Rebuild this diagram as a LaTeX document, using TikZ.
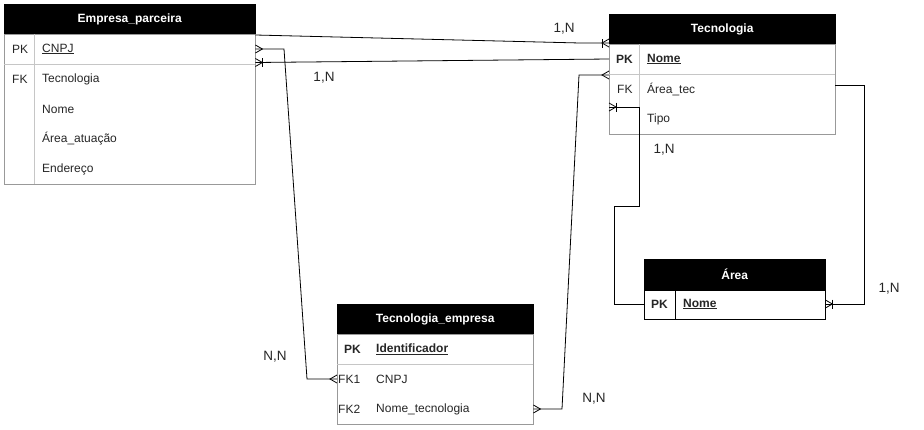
\documentclass[tikz,border=0pt]{standalone}
\usepackage{fontspec}
\setmainfont{Liberation Sans}
\usetikzlibrary{calc}
\begin{document}
\begin{tikzpicture}[x=1pt,y=-1pt,
  txt/.style={font=\fontsize{12}{14}\selectfont, text=black!85},
  hdr/.style={fill=black, draw=black, text=white, font=\fontsize{12}{14}\selectfont\bfseries, anchor=north west, inner sep=0},
  tbody/.style={draw=gray!80, anchor=north west, inner sep=0, fill=white},
  tbodyk/.style={draw=black, anchor=north west, inner sep=0, fill=white},
  cell/.style={txt, anchor=west, inner sep=0},
  bcell/.style={cell, font=\fontsize{12}{14}\selectfont\bfseries},
  sep/.style={draw=gray!45, line width=0.6pt},
  conn/.style={draw=black, line width=0.8pt},
  lbl/.style={font=\fontsize{13.5}{16}\selectfont, text=black!85, inner sep=0},
  crow/.pic={\draw[conn] (0,-4) -- (7,0) -- (0,4);},
  crowbar/.pic={\draw[conn] (0,-4) -- (7,0) -- (0,4); \draw[conn] (7,-4.5) -- (7,4.5);}
]
\useasboundingbox (0,0) rectangle (924,429);
\fill[white] (0,0) rectangle (924,429);

% ---------- Empresa_parceira ----------
\node[hdr, minimum width=251pt, minimum height=30pt] (empH) at (4,4) {Empresa\_parceira};
\node[tbody, minimum width=251pt, minimum height=150pt] (emp) at (4,34) {};
\draw[sep] (4,64) -- (255,64);
\draw[sep] (34,34) -- (34,184);
\node[cell] (empPK) at (12,49) {PK};
\node[cell] (empCNPJ) at (42,49) {\underline{CNPJ}};
\node[cell] (empFK) at (12,79) {FK};
\node[cell] (empTec) at (42,79) {Tecnologia};
\node[cell] (empNome) at (42,109) {Nome};
\node[cell] (empArea) at (42,139) {Área\_atuação};
\node[cell] (empEnd) at (42,169) {Endereço};

% ---------- Tecnologia ----------
\node[hdr, minimum width=226pt, minimum height=30pt] (tecH) at (609,14) {Tecnologia};
\node[tbody, minimum width=226pt, minimum height=90pt] (tec) at (609,44) {};
\draw[sep] (609,74) -- (835,74);
\draw[sep] (639,44) -- (639,134);
\node[bcell] (tecPK) at (616,59) {PK};
\node[bcell] (tecNome) at (647,59) {\underline{Nome}};
\node[cell] (tecFK) at (617,89) {FK};
\node[cell] (tecArea) at (647,89) {Área\_tec};
\node[cell] (tecTipo) at (647,119) {Tipo};

% ---------- Área ----------
\node[hdr, minimum width=181pt, minimum height=31pt] (areaH) at (644,259) {Área};
\node[tbodyk, minimum width=181pt, minimum height=29pt] (area) at (644,290) {};
\draw[draw=black, line width=0.6pt] (675,290) -- (675,319);
\node[bcell] (areaPK) at (651,304) {PK};
\node[bcell] (areaNome) at (683,304) {\underline{Nome}};

% ---------- Tecnologia_empresa ----------
\node[hdr, minimum width=196pt, minimum height=30pt] (teH) at (337,304) {Tecnologia\_empresa};
\node[tbody, minimum width=196pt, minimum height=90pt] (te) at (337,334) {};
\draw[sep] (337,364) -- (533,364);
\node[bcell] (tePK) at (344,349) {PK};
\node[bcell] (teId) at (376,349) {\underline{Identificador}};
\node[cell] (teFK1) at (338,379) {FK1};
\node[cell] (teCNPJ) at (376,379) {CNPJ};
\node[cell] (teFK2) at (338,409) {FK2};
\node[cell] (teNome) at (376,409) {Nome\_tecnologia};

% ---------- connectors ----------
% Empresa (top) -> Tecnologia header bottom
\coordinate (a1) at ($(emp.north east)+(0,1)$);
\coordinate (a2) at ($(tec.north west)+(0,-1)$);
\draw[conn] (a1) -- (580,43) -- (a2);
\pic[rotate=180] at (a2) {crowbar};

% Tecnologia Nome -> Empresa
\coordinate (b1) at (tec.west |- tecNome);
\coordinate (b2) at ($(emp.north east)+(0,28.5)$);
\draw[conn] (b1) -- (b2);
\pic at (b2) {crowbar};

% Empresa CNPJ -> Tecnologia_empresa FK1
\coordinate (c1) at (emp.east |- empCNPJ);
\coordinate (c2) at (te.west |- teFK1);
\draw[conn] (c1) -- (284,49) -- (307,379) -- (c2);
\pic at (c1) {crow};
\pic[rotate=180] at (c2) {crow};

% Tecnologia_empresa FK2 -> Tecnologia
\coordinate (d1) at (te.east |- teFK2);
\coordinate (d2) at ($(tec.north west)+(0,31)$);
\draw[conn] (d1) -- (562,409) -- (579,75) -- (d2);
\pic at (d1) {crow};
\pic[rotate=180] at (d2) {crow};

% Área Nome (left) -> Tecnologia
\coordinate (e1) at (area.west |- areaNome);
\coordinate (e2) at ($(tec.north west)+(0,63)$);
\draw[conn] (e1) -- (614,304) -- (614,206) -- (639,206) -- (639,107) -- (e2);
\pic at (e2) {crowbar};

% Tecnologia Área_tec -> Área (right)
\coordinate (f1) at ($(tec.north east)+(0,41)$);
\coordinate (f2) at (area.east |- areaNome);
\draw[conn] (f1) -- (864,85) -- (864,304) -- (f2);
\pic at (f2) {crowbar};

% ---------- labels ----------
\node[lbl] (l1) at (564,29) {1,N};
\node[lbl] (l2) at (324,78) {1,N};
\node[lbl] (l3) at (664,150) {1,N};
\node[lbl] (l4) at (889,289) {1,N};
\node[lbl] (l5) at (275,357) {N,N};
\node[lbl] (l6) at (594,399) {N,N};
\end{tikzpicture}
\end{document}
